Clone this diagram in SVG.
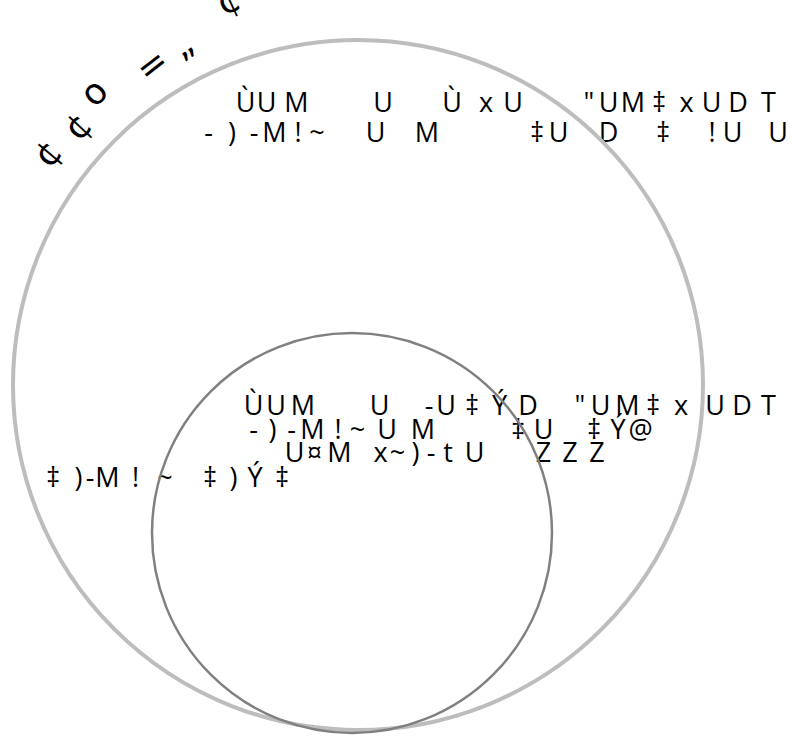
<svg xmlns="http://www.w3.org/2000/svg" width="792" height="736" viewBox="0 0 792 736">
<style>
text{font-family:"Open Sans","Noto Sans","Liberation Sans",sans-serif;font-size:27px;fill:#000;text-anchor:middle}
.arc{font-family:"DejaVu Sans","Liberation Sans",sans-serif;font-size:36px}
.outer{fill:none;stroke:#bdbdbd;stroke-width:4}
.inner{fill:none;stroke:#808080;stroke-width:2.5}
</style>
<rect width="792" height="736" fill="#fff"/>
<g id="outer-label">
<text class="arc" transform="translate(47,153) rotate(-50)" y="13">¢</text>
<text class="arc" transform="translate(77,126) rotate(-47)" y="13">¢</text>
<text class="arc" transform="translate(95.5,94) rotate(-45)" y="10">o</text>
<text class="arc" transform="translate(152,65) rotate(-38)" y="12">=</text>
<text class="arc" transform="translate(187,52) rotate(-35)" y="3">„</text>
<text class="arc" transform="translate(228,0) rotate(-25)" y="13">¢</text>
<text x="245.5 266.5 296.5 340 383 418 452 469 486 513 551 589 608.5 633 659 686.5 711.5 738 768.5" y="111.5">ÙUM U Ù xU "UM‡xUDT</text>
<text x="208.5 232 254 274.5 298 317 346 375.5 401 427 482 537 558.5 583 608.5 636 663 688 712 732.5 755 778" y="141.5">-)-M!~ U M ‡U D ‡ !U U</text>
</g>
<g id="inner-label">
<text x="253.5 276 303 341 379.5 404 429 446 472 499.5 528 554 580 600.5 627.5 653 681 715 742 768.5" y="415">ÙUM U -U‡ÝD "UM‡xUDT</text>
<text x="253.5 272.5 291.5 312.5 338 357.5 372 387 405 423 470 518 543.5 569 594 618 640.5" y="439">-)-M!~ U M ‡U ‡Ý@</text>
<text x="294.5 314.5 339.5 360 380.5 397.5 415.5 431 448 461 474.7 509 543.5 570 597" y="462">U¤M x~)-t U ZZZ</text>
</g>
<g id="left-label">
<text x="-4 28 53 78.5 90 107.5 135.5 165 188 210 233.5 255 282" y="487">) ‡)-M!~ ‡)Ý‡</text>
</g>
<g id="outer">
<circle class="outer" cx="358" cy="385" r="345"/>
</g>
<g id="inner">
<circle class="inner" cx="352" cy="533" r="200"/>
</g>
<g id="connectors"/>
</svg>
